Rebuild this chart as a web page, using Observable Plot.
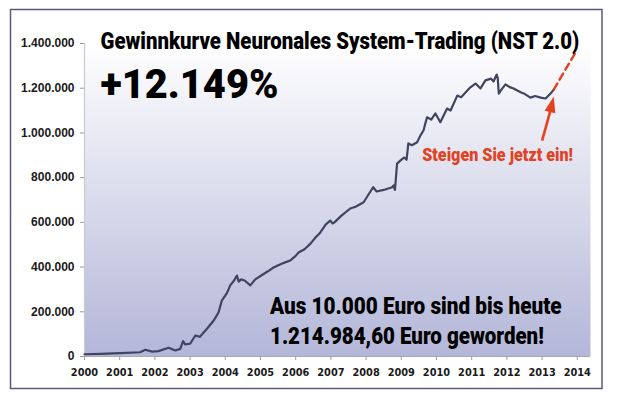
<!DOCTYPE html>
<html>
<head>
<meta charset="utf-8">
<script src="https://cdn.jsdelivr.net/npm/d3@7"></script>
<script src="https://cdn.jsdelivr.net/npm/@observablehq/plot@0.6"></script>
<style>
  html, body { margin: 0; padding: 0; background: #ffffff; }
  #chart { width: 617px; height: 399px; }
</style>
</head>
<body>
<div id="chart"></div>
<script>
// ---- data ----
const years = [
  2000.0, 2000.45, 2001.02, 2001.58, 2001.73, 2001.92, 2002.1, 2002.39, 2002.58, 2002.72,
  2002.8, 2002.86, 2003.0, 2003.15, 2003.28, 2003.48, 2003.67, 2003.73, 2003.81, 2003.9,
  2004.05, 2004.14, 2004.25, 2004.33, 2004.38, 2004.45, 2004.55, 2004.71, 2004.85, 2005.0,
  2005.2, 2005.37, 2005.6, 2005.85, 2006.0, 2006.08, 2006.25, 2006.42, 2006.55, 2006.7,
  2006.85, 2006.98, 2007.05, 2007.1, 2007.3, 2007.55, 2007.7, 2007.93, 2008.05, 2008.2,
  2008.3, 2008.5, 2008.74, 2008.78, 2008.82, 2008.88, 2008.98, 2009.08, 2009.15, 2009.2,
  2009.3, 2009.45, 2009.54, 2009.63, 2009.73, 2009.85, 2009.97, 2010.11, 2010.3, 2010.4,
  2010.59, 2010.7, 2010.85, 2010.97, 2011.11, 2011.25, 2011.39, 2011.55, 2011.62, 2011.71,
  2011.74, 2011.77, 2011.85, 2011.96, 2012.08, 2012.19, 2012.39, 2012.5, 2012.67, 2012.8,
  2012.96, 2013.1, 2013.24, 2013.33
];
const values = [
  10000, 12000, 15000, 19000, 30000, 22000, 24000, 39000, 27000, 34000,
  69000, 54000, 57000, 94000, 88000, 124000, 161000, 176000, 198000, 250000,
  285000, 318000, 340000, 362000, 335000, 345000, 340000, 318000, 345000, 360000,
  380000, 398000, 415000, 430000, 450000, 465000, 480000, 505000, 530000, 555000,
  590000, 608000, 595000, 600000, 630000, 662000, 670000, 690000, 720000, 757000,
  738000, 745000, 757000, 765000, 745000, 863000, 877000, 890000, 880000, 953000,
  945000, 958000, 988000, 1011000, 1070000, 1060000, 1087000, 1048000, 1109000, 1100000,
  1167000, 1160000, 1185000, 1205000, 1221000, 1199000, 1235000, 1243000, 1230000, 1261000,
  1245000, 1176000, 1195000, 1217000, 1205000, 1199000, 1182000, 1175000, 1158000, 1165000,
  1158000, 1154000, 1176000, 1194000
];
// projected continuation (red dashed)
const projYears = [2013.33, 2013.95];
const projValues = [1194000, 1360000];
// arrow: from text up to the end of the curve
const arrowYears = [2013.0, 2013.24];
const arrowValues = [966000, 1102000];
const arrowTipYear = 2013.33, arrowTipValue = 1163000;

const xTicks = [2000, 2001, 2002, 2003, 2004, 2005, 2006, 2007, 2008, 2009, 2010, 2011, 2012, 2013, 2014];
const yTicks = [0, 200000, 400000, 600000, 800000, 1000000, 1200000, 1400000];

const titleText = "Gewinnkurve Neuronales System-Trading (NST 2.0)";
const bigText = "+12.149%";
const line1Text = "Aus 10.000 Euro sind bis heute";
const line2Text = "1.214.984,60 Euro geworden!";
const calloutText = "Steigen Sie jetzt ein!";

// ---- build ----
const data = years.map((y, i) => ({year: y, value: values[i]}));
const proj = projYears.map((y, i) => ({year: y, value: projValues[i]}));
const arrow = [{x1: arrowYears[0], y1: arrowValues[0], x2: arrowYears[1], y2: arrowValues[1]}];
const tip = [{year: arrowTipYear, value: arrowTipValue}];

const deFmt = d => d3.format(",")(d).replace(/,/g, ".");
const heavy = "Roboto, Lato, Inter, 'DejaVu Sans', sans-serif";
const red = "#e2421f";

const arrowHead = {
  draw(ctx) {
    ctx.moveTo(0, 0);
    ctx.lineTo(5.5, 16);
    ctx.lineTo(-5.5, 16);
    ctx.closePath();
  }
};

const defs = () => {
  const g = d3.create("svg:defs");
  const lg = g.append("linearGradient").attr("id", "bg").attr("x1", 0).attr("y1", 0).attr("x2", 0).attr("y2", 1);
  lg.append("stop").attr("offset", "0%").attr("stop-color", "#ffffff");
  lg.append("stop").attr("offset", "100%").attr("stop-color", "#b3b6d8");
  return g.node();
};

const plot = Plot.plot({
  width: 617,
  height: 399,
  marginLeft: 84,
  marginRight: 27,
  marginTop: 43,
  marginBottom: 43,
  style: {background: "transparent", fontFamily: "'Liberation Sans', Arial, sans-serif", overflow: "visible"},
  x: {domain: [2000, 2014.375]},
  y: {domain: [0, 1400000]},
  marks: [
    defs,
    Plot.frame({fill: "url(#bg)", stroke: null}),
    Plot.ruleX([2000], {stroke: "#c9c9d0", strokeWidth: 1.2}),
    Plot.ruleY([0], {stroke: "#a9a9b4", strokeWidth: 1.2}),
    Plot.axisY({ticks: yTicks, tickFormat: deFmt, tickSize: 4, tickPadding: 6, label: null,
      stroke: "#9a9aa6", fill: "#1a1a1a", fontSize: 12, fontWeight: "bold",
      fontFamily: "'Liberation Sans', Arial, sans-serif"}),
    Plot.axisX({ticks: xTicks, tickFormat: d => String(d), tickSize: 4, tickPadding: 9, label: null,
      stroke: "#9a9aa6", fill: "#1a1a1a", fontSize: 9.8, fontWeight: "bold",
      fontFamily: "'DejaVu Sans', Verdana, sans-serif"}),
    Plot.line(data, {x: "year", y: "value", stroke: "#404460", strokeWidth: 2.2, strokeLinejoin: "round"}),
    Plot.line(proj, {x: "year", y: "value", stroke: red, strokeWidth: 2.4, strokeDasharray: "7,4.5"}),
    Plot.link(arrow, {x1: "x1", y1: "y1", x2: "x2", y2: "y2", stroke: red, strokeWidth: 2.6}),
    Plot.dot(tip, {x: "year", y: "value", symbol: arrowHead, r: 6, fill: red, stroke: null, rotate: 13.5}),
    Plot.text([titleText], {frameAnchor: "top-left", dx: 16, dy: 5, textAnchor: "start", lineAnchor: "bottom",
      fontSize: 23, fontWeight: 900, fontFamily: heavy, fill: "#000"}),
    Plot.text([bigText], {frameAnchor: "top-left", dx: 16, dy: 54, textAnchor: "start", lineAnchor: "bottom",
      fontSize: 40, fontWeight: 900, fontFamily: heavy, fill: "#000"}),
    Plot.text([line1Text], {frameAnchor: "bottom-left", dx: 185.5, dy: -43, textAnchor: "start", lineAnchor: "bottom",
      fontSize: 23, fontWeight: 900, fontFamily: heavy, fill: "#000"}),
    Plot.text([line2Text], {frameAnchor: "bottom-left", dx: 185.5, dy: -13, textAnchor: "start", lineAnchor: "bottom",
      fontSize: 23, fontWeight: 900, fontFamily: heavy, fill: "#000"}),
    Plot.text([calloutText], {frameAnchor: "top-left", dx: 337.7, dy: 117, textAnchor: "start", lineAnchor: "bottom",
      fontSize: 17.5, fontWeight: 900, fontFamily: heavy, fill: red})
  ]
});

// outer border
d3.select(plot).append("rect")
  .attr("x", 10.5).attr("y", 9.5).attr("width", 591.5).attr("height", 379)
  .attr("fill", "none").attr("stroke", "#5a5a7a").attr("stroke-width", 1.5);

document.getElementById("chart").appendChild(plot);

// condense headline texts horizontally to the reference widths
const widths = {};
widths[titleText] = 479;
widths[bigText] = 178;
widths[line1Text] = 292;
widths[line2Text] = 274;
widths[calloutText] = 151;
d3.select(plot).selectAll("text").each(function () {
  const t = this.textContent;
  const target = widths[t];
  if (!target || this.childElementCount !== 0) return;
  const L = this.getComputedTextLength();
  if (!L) return;
  const sx = target / L;
  const bb = this.getBBox();
  const ct = this.getCTM();
  const parent = this.parentNode;
  const cp = parent.getCTM();
  const x0 = ct.a * bb.x + ct.e - cp.e;
  const g = document.createElementNS("http://www.w3.org/2000/svg", "g");
  g.setAttribute("transform", `matrix(${sx},0,0,1,${x0 * (1 - sx)},0)`);
  parent.insertBefore(g, this);
  g.appendChild(this);
});
</script>
</body>
</html>
